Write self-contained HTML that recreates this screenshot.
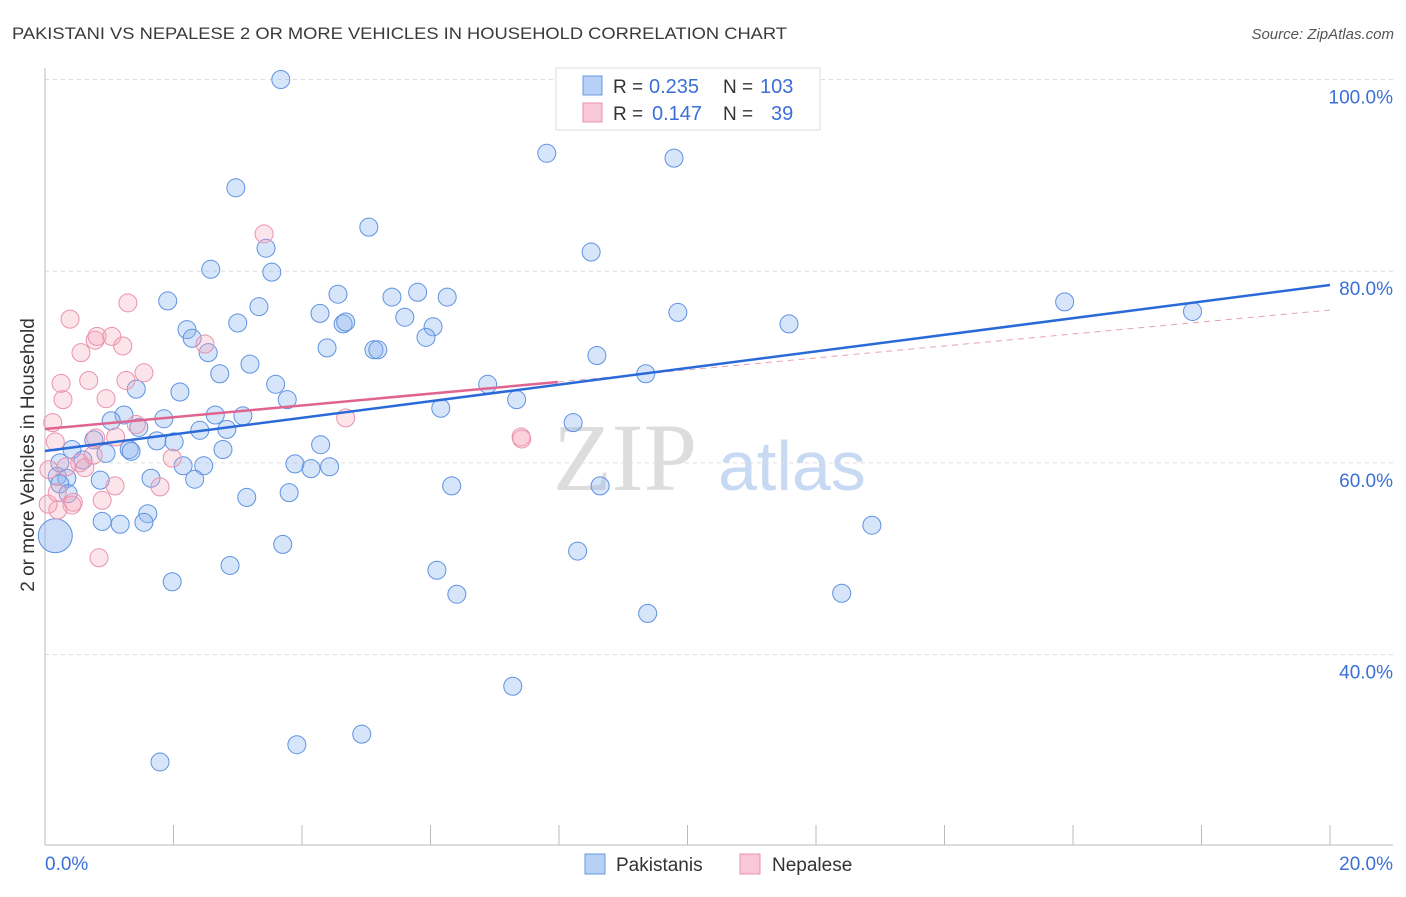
<!DOCTYPE html>
<html><head><meta charset="utf-8"><style>
body{margin:0;background:#fff;font-family:"Liberation Sans",sans-serif}
</style></head><body>
<svg id="c" width="1406" height="892" xmlns="http://www.w3.org/2000/svg" style="font-family:'Liberation Sans',sans-serif">
<text x="12" y="39" font-size="17" fill="#3a3a3a" textLength="775" lengthAdjust="spacingAndGlyphs">PAKISTANI VS NEPALESE 2 OR MORE VEHICLES IN HOUSEHOLD CORRELATION CHART</text>
<text x="1394" y="39" font-size="15" fill="#555" font-style="italic" text-anchor="end">Source: ZipAtlas.com</text>
<text transform="translate(34,455) rotate(-90)" font-size="19" fill="#333" text-anchor="middle">2 or more Vehicles in Household</text>
<g>
<text x="553" y="490" font-size="96" fill="#ddd" font-family="Liberation Serif,serif">ZIP</text>
<text x="718" y="490" font-size="70" fill="#c8daf3">atlas</text>
</g>
<g id="grid"></g><g id="axes"></g><g id="pts"></g><g id="trend"></g>
<g>
<rect x="556" y="68" width="264" height="62" fill="#fff" stroke="#ddd"/>
<rect x="583" y="76" width="19" height="19" fill="#b8d0f5" stroke="#6a9ae0"/>
<rect x="583" y="103" width="19" height="19" fill="#f8c8d6" stroke="#e890aa"/>
<text x="613" y="93" font-size="19" fill="#333">R =</text>
<text x="649" y="93" font-size="20" fill="#3b6fd8">0.235</text>
<text x="723" y="93" font-size="19" fill="#333">N =</text>
<text x="760" y="93" font-size="20" fill="#3b6fd8">103</text>
<text x="613" y="120" font-size="19" fill="#333">R =</text>
<text x="652" y="120" font-size="20" fill="#3b6fd8">0.147</text>
<text x="723" y="120" font-size="19" fill="#333">N =</text>
<text x="771" y="120" font-size="20" fill="#3b6fd8">39</text>
</g>
<g>
<rect x="585" y="854" width="20" height="20" fill="#b8d0f5" stroke="#6a9ae0"/>
<text x="616" y="871" font-size="19" fill="#333">Pakistanis</text>
<rect x="740" y="854" width="20" height="20" fill="#f8c8d6" stroke="#e890aa"/>
<text x="772" y="871" font-size="19" fill="#333">Nepalese</text>
</g>
</svg>
<script>
const blueX=[3.67,7.81,9.79,2.97,5.04,3.44,8.50,2.58,3.53,1.91,4.56,5.40,5.80,6.26,3.33,4.28,5.60,4.64,4.68,3.00,2.21,6.04,5.93,9.85,11.58,15.87,17.86,2.29,4.39,5.12,5.18,2.54,8.59,3.19,2.72,9.35,1.42,3.59,6.89,2.10,3.77,7.34,6.16,1.23,1.85,1.03,2.65,3.08,1.46,8.22,2.41,2.83,1.74,2.01,4.29,0.76,0.42,1.31,1.34,2.77,0.95,4.43,0.59,0.23,2.15,2.47,3.89,4.14,1.65,2.33,0.86,6.33,8.64,0.19,0.34,0.23,0.36,3.14,3.80,1.60,0.89,1.17,1.54,12.87,3.70,8.29,2.88,6.10,1.98,6.41,12.40,9.38,7.28,3.92,4.93,1.79];
const blueY=[100.0,92.3,91.8,88.7,84.6,82.4,82.0,80.2,79.9,76.9,77.6,77.3,77.8,77.3,76.3,75.6,75.2,74.5,74.7,74.6,73.9,74.2,73.1,75.7,74.5,76.8,75.8,73.0,72.0,71.8,71.8,71.5,71.2,70.3,69.3,69.3,67.7,68.2,68.2,67.4,66.6,66.6,65.7,65.0,64.6,64.4,65.0,64.9,63.7,64.2,63.4,63.5,62.3,62.2,61.9,62.4,61.4,61.4,61.2,61.4,61.0,59.6,60.3,60.0,59.7,59.7,59.9,59.4,58.4,58.3,58.2,57.6,57.6,58.6,58.4,57.8,56.8,56.4,56.9,54.7,53.9,53.6,53.8,53.5,51.5,50.8,49.3,48.8,47.6,46.3,46.4,44.3,36.7,30.6,31.7,28.8];
const bigX=[0.16], bigY=[52.4];
const pinkX=[3.41,1.29,0.39,0.78,0.81,1.04,1.21,0.56,2.49,1.54,1.26,0.25,0.68,0.28,0.95,0.12,0.16,1.42,1.10,0.79,4.68,7.41,7.42,1.98,0.54,0.33,0.62,0.06,1.79,1.09,0.89,0.42,0.44,0.20,0.05,0.84,0.19,0.75];
const pinkY=[83.9,76.7,75.0,72.8,73.2,73.2,72.2,71.5,72.4,69.4,68.6,68.3,68.6,66.6,66.7,64.2,62.2,64.0,62.7,62.6,64.7,62.7,62.5,60.5,60.0,59.6,59.5,59.3,57.5,57.6,56.1,55.6,55.9,55.1,55.7,50.1,56.9,60.8];
const blueTrend=[[0,61.24],[20,78.56]];
const pinkTrend=[[0,63.54],[7.98,68.44]];
const pinkDash=[[7.98,68.44],[20,75.95]];
const yTicks=[100,80,60,40];
const yTickLabels=["100.0%","80.0%","60.0%","40.0%"];
const xTickCount=10;
const NS="http://www.w3.org/2000/svg";
const sx=v=>45+v/20*1285, sy=v=>79.5+(100-v)/20*191.7;
function mk(tag,attrs,parent){const e=document.createElementNS(NS,tag);for(const k in attrs)e.setAttribute(k,attrs[k]);document.getElementById(parent).appendChild(e);return e;}
yTicks.forEach((t,i)=>{
 const l=mk('line',{x1:45,x2:1393,y1:sy(t),y2:sy(t),stroke:'#ddd','stroke-dasharray':'4,4'},'grid');
 
 
 const tx=mk('text',{x:1393,y:sy(t)+24,'font-size':19,fill:'#3b6fd8','text-anchor':'end'},'grid');
 tx.textContent=yTickLabels[i];
 
 
});
let a=mk('line',{x1:45,x2:45,y1:68,y2:845,stroke:'#bbb'},'axes');


a=mk('line',{x1:45,x2:1393,y1:845,y2:845,stroke:'#bbb'},'axes');


for(let i=1;i<=xTickCount;i++){const x=sx(i*20/xTickCount);
 const t=mk('line',{x1:x,x2:x,y1:825,y2:845,stroke:'#bbb'},'axes');
 
 }
let xl=mk('text',{x:45,y:870,'font-size':19,fill:'#3b6fd8'},'axes');xl.textContent='0.0%';


xl=mk('text',{x:1393,y:870,'font-size':19,fill:'#3b6fd8','text-anchor':'end'},'axes');xl.textContent='20.0%';


blueX.forEach((v,i)=>{const c=mk('circle',{cx:sx(v),cy:sy(blueY[i]),r:9,fill:'rgba(140,180,240,0.35)',stroke:'#5f92e0','stroke-width':1},'pts');
 
 });
bigX.forEach((v,i)=>{const c=mk('circle',{cx:sx(v),cy:sy(bigY[i]),r:17,fill:'rgba(140,180,240,0.45)',stroke:'#5f92e0','stroke-width':1},'pts');
 
 });
pinkX.forEach((v,i)=>{const c=mk('circle',{cx:sx(v),cy:sy(pinkY[i]),r:9,fill:'rgba(245,165,190,0.3)',stroke:'#ea92ad','stroke-width':1},'pts');
 
 });
let tl=mk('line',{x1:sx(pinkDash[0][0]),y1:sy(pinkDash[0][1]),x2:sx(pinkDash[1][0]),y2:sy(pinkDash[1][1]),stroke:'#e8a0b6','stroke-dasharray':'6,5','stroke-width':1},'trend');


tl=mk('line',{x1:sx(blueTrend[0][0]),y1:sy(blueTrend[0][1]),x2:sx(blueTrend[1][0]),y2:sy(blueTrend[1][1]),stroke:'#2a6ad8','stroke-width':2.5},'trend');


tl=mk('line',{x1:sx(pinkTrend[0][0]),y1:sy(pinkTrend[0][1]),x2:sx(pinkTrend[1][0]),y2:sy(pinkTrend[1][1]),stroke:'#e06490','stroke-width':2.5},'trend');


</script>
</body></html>
